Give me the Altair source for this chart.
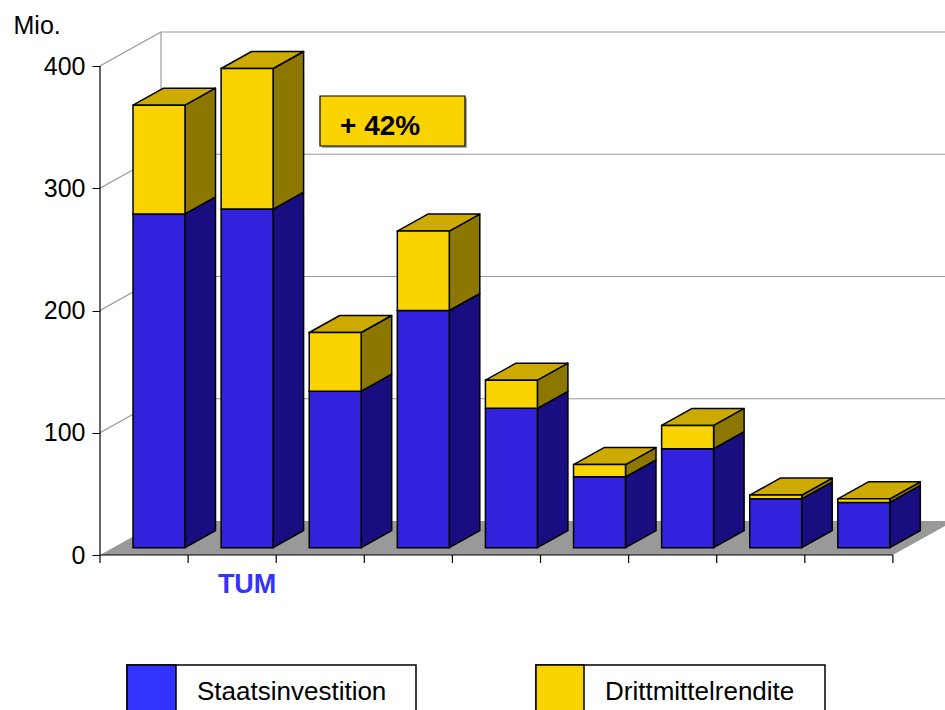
import altair as alt
import pandas as pd

# ---- data ----
staats = [273, 277, 128, 194, 114, 58, 81, 40, 37]      # Staatsinvestition (Mio.)
dritt = [89, 115, 48, 65, 23, 10, 19, 3, 3]             # Drittmittelrendite (Mio.)
series = ["Staatsinvestition", "Drittmittelrendite"]
y_ticks = [0, 100, 200, 300, 400]
logo_label = "TUM"
logo_index = 1
note = "+ 42%"
unit = "Mio."

# ---- layout constants ----
W, H = 845, 710
PAD_L = 100
CAT_PX = 88.1
PX_PER_UNIT = 1.2225
ZERO_PX = 555
n = len(staats)
x_dom = [0, W / CAT_PX]
y_top = ZERO_PX / PX_PER_UNIT
y_dom = [y_top - H / PX_PER_UNIT, y_top]
DDX = 61 / CAT_PX          # wall depth in category units
DDY = 34 / PX_PER_UNIT     # wall depth in value units
F_FRONT = 0.215
F_DEPTH = 0.5
GAP = 0.226
BAR_W = 0.59
TICK = 8 / PX_PER_UNIT
FONT = "Liberation Sans, Arial, sans-serif"

front_col = ["#3322DD", "#FAD400"]
side_col = ["#180E80", "#8C7800"]
top_col = ["#2A1CB0", "#CCAA00"]

# ---- derived face tables ----
fronts, sides, tops = [], [], []
for i, (s, d) in enumerate(zip(staats, dritt)):
    x0 = i + F_FRONT * DDX + GAP
    x1 = x0 + BAR_W
    oy = F_FRONT * DDY
    dx, dy = F_DEPTH * DDX, F_DEPTH * DDY
    segs = [(series[0], 0, s), (series[1], s, s + d)]
    for k, (name, b, t) in enumerate(segs):
        y0, y1 = b + oy, t + oy
        fronts.append(dict(series=name, x=x0, x2=x1, y=y0, y2=y1))
        face = f"{i}-{k}"
        sides.append(dict(face=face, series=name, x=x1, y=y1, y2=y0))
        sides.append(dict(face=face, series=name, x=x1 + dx, y=y1 + dy, y2=y0 + dy))
        if k == len(segs) - 1:
            tops.append(dict(face=f"{i}", series=name, y=y1, x=x0, x2=x1))
            tops.append(dict(face=f"{i}", series=name, y=y1 + dy, x=x0 + dx, x2=x1 + dx))

fronts = pd.DataFrame(fronts)
sides = pd.DataFrame(sides)
tops = pd.DataFrame(tops)

floor = pd.DataFrame([
    dict(y=0, x=0, x2=n),
    dict(y=DDY, x=DDX, x2=n + DDX),
])

grid = []
for v in y_ticks[1:]:
    grid.append(dict(x=0, y=v, x2=DDX, y2=v + DDY))
    grid.append(dict(x=DDX, y=v + DDY, x2=x_dom[1], y2=v + DDY))
grid.append(dict(x=DDX, y=DDY, x2=DDX, y2=y_ticks[-1] + DDY))
grid = pd.DataFrame(grid)

axis_lines = [dict(x=0, y=0, x2=0, y2=y_ticks[-1]), dict(x=0, y=0, x2=n, y2=0)]
for i in range(n + 1):
    axis_lines.append(dict(x=i, y=0, x2=i, y2=-TICK))
axis_lines = pd.DataFrame(axis_lines)

xs = alt.Scale(domain=x_dom, nice=False, zero=False)
ys = alt.Scale(domain=y_dom, nice=False, zero=False)

y_axis = alt.Axis(
    values=y_ticks, grid=False, domain=False, tickSize=8, tickColor="black",
    labelPadding=7, labelFontSize=25, labelFont=FONT, labelColor="black",
    title=unit, titleAngle=0, titleAlign="left", titleBaseline="alphabetic",
    titleX=-87, titleY=33, titleFontSize=25, titleFont=FONT,
    titleFontWeight="normal", titleColor="black")


def X(f):
    return alt.X(f, type="quantitative", scale=xs, axis=None)


def Y(f):
    return alt.Y(f, type="quantitative", scale=ys, axis=y_axis)


floor_layer = alt.Chart(floor).mark_area(orient="horizontal", color="#999999", clip=True).encode(
    y=Y("y"), x=alt.X("x:Q", scale=xs, axis=None, stack=None), x2="x2:Q"
)

grid_layer = alt.Chart(grid).mark_rule(color="#999999", strokeWidth=1.2, clip=True).encode(
    x=X("x"), x2="x2:Q", y=Y("y"), y2="y2:Q"
)

axis_layer = alt.Chart(axis_lines).mark_rule(color="black", strokeWidth=1.2).encode(
    x=X("x"), x2="x2:Q", y=Y("y"), y2="y2:Q",
)

side_layer = alt.Chart(sides).mark_area(orient="vertical", stroke="black", strokeWidth=1.5,
                                        strokeJoin="round").encode(
    x=X("x"), y=Y("y"), y2="y2:Q", detail="face:N",
    fill=alt.Fill("series:N", scale=alt.Scale(domain=series, range=side_col), legend=None),
)

top_layer = alt.Chart(tops).mark_area(orient="horizontal", stroke="black", strokeWidth=1.5,
                                      strokeJoin="round").encode(
    y=Y("y"), x=alt.X("x:Q", scale=xs, axis=None, stack=None), x2="x2:Q", detail="face:N",
    fill=alt.Fill("series:N", scale=alt.Scale(domain=series, range=top_col), legend=None),
)

front_layer = alt.Chart(fronts).mark_rect(stroke="black", strokeWidth=1.5).encode(
    x=X("x"), x2="x2:Q", y=Y("y"), y2="y2:Q",
    fill=alt.Fill("series:N", scale=alt.Scale(domain=series, range=front_col), legend=None),
)

one = pd.DataFrame({"a": [0]})
logo_x = logo_index + F_FRONT * DDX + GAP + BAR_W / 2
logo_layer = alt.Chart(one).mark_text(
    text=logo_label, font=FONT,
    fontWeight="bold", fontSize=27, color="#3333FF", align="center", baseline="middle"
).encode(x=alt.value((logo_x * CAT_PX)), y=alt.value(585))

# "+ 42%" annotation box
note_layers = [
    alt.Chart(one).mark_rect(fill="#AAAAAA").encode(
        x=alt.value(222), x2=alt.value(367), y=alt.value(98), y2=alt.value(148)),
    alt.Chart(one).mark_rect(fill="#FAD400", stroke="black", strokeWidth=1.2).encode(
        x=alt.value(220), x2=alt.value(365), y=alt.value(96), y2=alt.value(146)),
    alt.Chart(one).mark_text(text=note, font=FONT, fontWeight="bold", fontSize=28,
                             color="black", align="left", baseline="alphabetic").encode(
        x=alt.value(240), y=alt.value(135)),
]

# legend boxes
legend_layers = []
legend_pos = [(27, 76, 316), (436, 484, 725)]
legend_fill = ["#3333FF", "#FAD400"]
for name, colr, (bx, sx, ex) in zip(series, legend_fill, legend_pos):
    legend_layers += [
        alt.Chart(one).mark_rect(fill="white", stroke="black", strokeWidth=1.5).encode(
            x=alt.value(bx), x2=alt.value(ex), y=alt.value(665), y2=alt.value(740)),
        alt.Chart(one).mark_rect(fill=colr, stroke="black", strokeWidth=1.5).encode(
            x=alt.value(bx), x2=alt.value(sx), y=alt.value(665), y2=alt.value(740)),
        alt.Chart(one).mark_text(text=name, font=FONT, fontSize=26, color="black",
                                 align="left", baseline="alphabetic").encode(
            x=alt.value(sx + 21), y=alt.value(700)),
    ]

chart = alt.layer(
    floor_layer, grid_layer, axis_layer, side_layer, top_layer, front_layer,
    logo_layer, *note_layers, *legend_layers
).resolve_scale(fill="independent").properties(
    width=W, height=H,
    padding={"left": PAD_L, "top": 0, "right": 0, "bottom": 0},
    autosize=alt.AutoSizeParams(type="none"),
    background="white",
).configure_view(stroke=None)

chart.save("out.html", embed_options={"renderer": "svg", "actions": False})
